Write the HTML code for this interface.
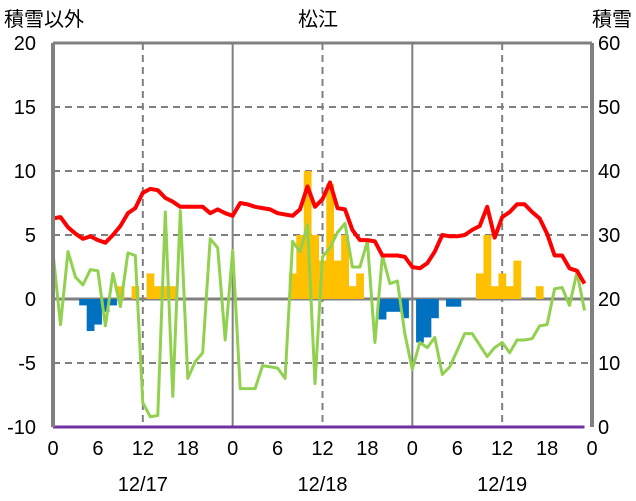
<!DOCTYPE html>
<html><head><meta charset="utf-8">
<style>
body{margin:0;background:#fff;}
svg{display:block;font-family:"Liberation Sans","Noto Sans CJK JP",sans-serif;}
</style></head>
<body>
<svg id="chart" width="636" height="501" viewBox="0 0 636 501" xmlns="http://www.w3.org/2000/svg">
<g id="grid"></g>
<g id="bars"></g>
<g id="lines"></g>
<g id="axes"></g>
</svg>
<script>
const hours = Array.from({length:72},(_,i)=>i);
const temp = [6.3,6.4,5.6,5.1,4.7,4.9,4.6,4.4,5.0,5.7,6.7,7.1,8.3,8.6,8.5,7.9,7.6,7.2,7.2,7.2,7.2,6.7,7.0,6.7,
6.5,7.5,7.4,7.2,7.1,7.0,6.7,6.6,6.5,7.0,8.8,7.2,7.8,9.1,7.1,7.0,5.4,4.6,4.6,4.5,3.4,3.4,3.4,3.3,
2.5,2.4,2.8,3.7,5.0,4.9,4.9,5.0,5.4,5.7,7.2,4.8,6.4,6.8,7.4,7.4,6.8,6.3,5.1,3.4,3.4,2.4,2.2,1.2];
const other = [3.6,-2.0,3.7,1.7,1.1,2.3,2.2,-2.1,2.0,-0.6,3.6,3.4,-8.1,-9.2,-9.1,6.8,-7.6,6.9,-6.2,-4.9,-4.2,4.7,4.0,-3.2,
3.8,-7.0,-7.0,-7.0,-5.2,-5.3,-5.4,-6.2,4.5,3.7,5.8,-6.6,3.3,4.0,5.2,5.9,2.5,2.5,4.5,-3.4,3.4,1.2,1.4,-2.7,
-5.5,-3.4,-3.8,-3.0,-5.9,-5.3,-4.0,-2.7,-2.7,-3.6,-4.5,-3.8,-3.4,-4.2,-3.2,-3.2,-3.1,-2.1,-2.0,0.8,0.9,-0.5,2.1,-0.9];
const snowDiff = [0,0,0,0,-0.5,-2.5,-2.0,-1,-0.5,1,0,1,0,2,1,1,1,0,0,0,0,0,0,0,
0,0,0,0,0,0,0,0,2,5,10,5,3,9,3,5,1,2,0,0,-1.6,-1,-1,-1.5,
0,-3.4,-3.0,-1.5,0,-0.6,-0.6,0,0,2,5,1,2,1,3,0,0,1,0,0,0,0,0,0];
const snowDepth = Array(72).fill(0);
const leftTicks = [20,15,10,5,0,-5,-10];
const rightTicks = [60,50,40,30,20,10,0];
const hourTicks = [0,6,12,18,24,30,36,42,48,54,60,66,72];
const hourLabels = ["0","6","12","18","0","6","12","18","0","6","12","18","0"];
const dayLabels = ["12/17","12/18","12/19"];

const X0=53,X1=592,Y0=43,Y1=427;
const xS=h=>X0+h*(X1-X0)/72;
const yL=v=>Y0+(20-v)*(Y1-Y0)/30;
const yR=v=>Y0+(60-v)*(Y1-Y0)/60;
const NS="http://www.w3.org/2000/svg";
function mk(parent,tag,attrs,name,text){
  const e=document.createElementNS(NS,tag);
  for(const k in attrs)e.setAttribute(k,attrs[k]);
  
  
  if(text!==undefined)e.textContent=text;
  document.getElementById(parent).appendChild(e);return e;
}
[15,10,5,-5].forEach(v=>mk('grid','line',{x1:X0,x2:X1,y1:yL(v),y2:yL(v),stroke:'#808080','stroke-width':2,'stroke-dasharray':'7,5'},'h-gridline'));
[12,36,60].forEach(h=>mk('grid','line',{x1:xS(h),x2:xS(h),y1:Y0,y2:Y1,stroke:'#808080','stroke-width':2,'stroke-dasharray':'7,5'},'noon-gridline'));
[24,48].forEach(h=>mk('grid','line',{x1:xS(h),x2:xS(h),y1:Y0,y2:Y1,stroke:'#808080','stroke-width':2},'day-divider'));
const bw=(X1-X0)/72;
snowDiff.forEach((v,i)=>{
  if(!v)return;
  const y=Math.min(yL(v),yL(0)),h=Math.abs(yL(v)-yL(0));
  mk('bars','rect',{x:xS(i)-bw/2,y:y,width:bw+0.3,height:h,fill:v>0?'#ffc000':'#0070c0'},'bar-hour-'+i);
});
mk('grid','line',{x1:X0,x2:X1,y1:yL(0),y2:yL(0),stroke:'#808080','stroke-width':3},'zero-line');
function line(arr,sc,color,w,name){
  const pts=arr.map((v,i)=>xS(i).toFixed(1)+','+sc(v).toFixed(1)).join(' ');
  mk('lines','polyline',{points:pts,fill:'none',stroke:color,'stroke-width':w,'stroke-linejoin':'round'},name);
}
line(other,yL,'#92d050',3,'other-line');
line(temp,yL,'#ff0000',4,'temperature-line');
line(snowDepth,yR,'#7030a0',3,'snow-depth-line');
mk('axes','line',{x1:X0,x2:X1,y1:Y0,y2:Y0,stroke:'#808080','stroke-width':3},'top-border');
mk('axes','line',{x1:X0,x2:X0,y1:Y0,y2:Y1,stroke:'#808080','stroke-width':4},'left-axis');
mk('axes','line',{x1:X1,x2:X1,y1:Y0,y2:Y1,stroke:'#808080','stroke-width':4},'right-axis');
leftTicks.forEach(v=>mk('axes','text',{x:36,y:yL(v)+7,'text-anchor':'end','font-size':20,fill:'#000'},'left-tick-label',String(v)));
rightTicks.forEach(v=>mk('axes','text',{x:598,y:yR(v)+7,'font-size':20,fill:'#000'},'right-tick-label',String(v)));
hourTicks.forEach((h,i)=>mk('axes','text',{x:xS(h),y:455,'text-anchor':'middle','font-size':20,fill:'#000'},'hour-tick-label',hourLabels[i]));
dayLabels.forEach((d,i)=>mk('axes','text',{x:xS(12+24*i),y:491,'text-anchor':'middle','font-size':20,fill:'#000'},'date-label',d));
mk('axes','text',{x:318,y:26,'text-anchor':'middle','font-size':20,fill:'#000'},'chart-title','松江');
mk('axes','text',{x:4,y:26,'font-size':20,fill:'#000'},'left-axis-title','積雪以外');
mk('axes','text',{x:632,y:26,'text-anchor':'end','font-size':20,fill:'#000'},'right-axis-title','積雪');
</script>
</body></html>
